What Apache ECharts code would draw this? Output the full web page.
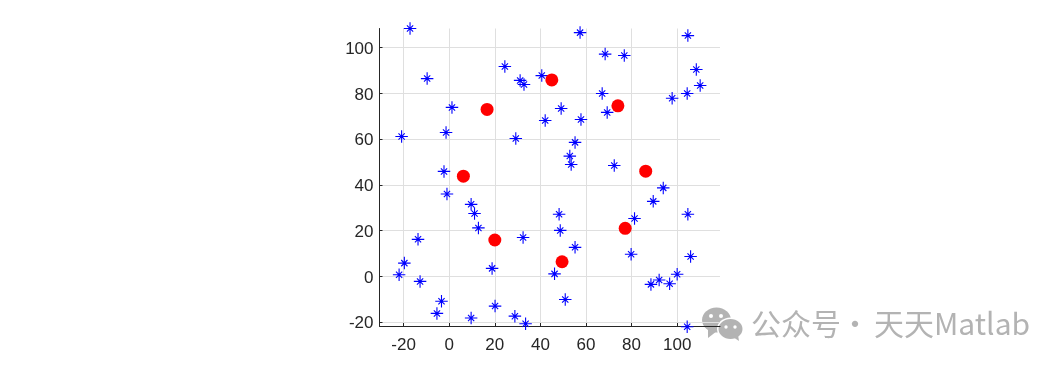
<!DOCTYPE html>
<html><head><meta charset="utf-8">
<style>html,body{margin:0;padding:0;background:#fff}#c{width:1063px;height:367px}</style>
<script src="https://cdn.jsdelivr.net/npm/echarts@6/dist/echarts.min.js"></script>
</head><body><div id="c"></div>
<script>
const xTicks = [-20,0,20,40,60,80,100];
const yTicks = [-20,0,20,40,60,80,100];
const xRange = [-30.6,118.8];
const yRange = [-21.7,108.4];
const samplePoints = [
[-17.2,108.4],[-9.7,86.5],[1.2,73.9],[-20.9,61.2],[-1.4,62.9],[-2.3,45.9],[24.4,91.8],[31.1,85.7],[32.8,83.9],[40.6,87.8],[42.1,68.2],[29.2,60.3],
[57.4,106.6],[68.4,97.2],[76.8,96.6],[104.7,105.3],[108.4,90.5],[110.1,83.5],[104.4,80],[97.8,77.9],[67.1,80],[69.3,71.7],[49.1,73.4],[57.8,68.6],[55.2,58.6],[52.9,52.6],[53.5,48.9],[72.4,48.5],[93.9,38.7],
[-1,36],[9.6,31.5],[11.1,27.5],[12.8,21.2],[-13.7,16.2],[-19.7,5.8],[-22,0.7],[-12.8,-2.2],[-3.4,-10.9],[-5.4,-16.2],[9.6,-18.2],[20.1,-13],[28.8,-17.4],[33.5,-20.7],[18.8,3.5],[32.4,17],
[48.2,27.2],[48.7,20.1],[55.2,12.7],[46.2,1.1],[50.9,-10.1],[81.3,25.3],[89.5,32.8],[104.7,27.2],[105.9,8.7],[79.8,9.7],[100,0.9],[92.1,-1.6],[88.5,-3.5],[96.7,-3.2],[104.4,-22]
];
const centers = [[16.6,73],[6.2,43.8],[45,85.9],[74,74.6],[86.2,46],[77.2,21],[49.5,6.4],[20,15.9]];
const watermark = ["公众号","·","天天Matlab"];
const AXC = '#262626', GRID = '#dfdfdf', GREY = '#b3b3b3';
const star = 'path://M0 -6V6M-6 0H6M-3 -3L3 3M-3 3L3 -3';
function axis(ticks, range, lab){
  return {type:'value',min:range[0],max:range[1],
    axisLine:{show:true,onZero:false,lineStyle:{color:AXC,width:1}},
    axisTick:{show:true,inside:true,length:3,customValues:ticks,lineStyle:{color:AXC,width:1}},
    splitLine:{show:true,lineStyle:{color:GRID,width:1}},
    axisLabel:Object.assign({customValues:ticks,color:AXC,fontFamily:'Liberation Sans',fontSize:17},lab)};
}
const wmStyle = {fill:GREY,fontFamily:'"Noto Sans CJK SC","Noto Sans",sans-serif',fontSize:30,verticalAlign:'middle',align:'left'};
const chart = echarts.init(document.getElementById('c'),null,{renderer:'canvas'});
chart.setOption({animation:false,backgroundColor:'#fff',
  grid:{left:379.5,right:343,top:28.5,bottom:41},
  xAxis:axis(xTicks,xRange,{margin:11}),yAxis:axis(yTicks,yRange,{margin:6,verticalAlign:'top',lineHeight:3}),
  series:[
   {type:'scatter',data:samplePoints,symbol:star,symbolSize:12.5,clip:false,
    itemStyle:{color:'none',borderColor:'#0000ff',borderWidth:1.1,opacity:1}},
   {type:'scatter',data:centers,symbol:'circle',symbolSize:13,clip:false,z:3,
    itemStyle:{color:'#ff0000',opacity:1}}
  ],
  graphic:[
   {type:'group',z:100,children:[
    {type:'ellipse',shape:{cx:716.5,cy:320,rx:14.5,ry:12.5},style:{fill:GREY}},
    {type:'polygon',shape:{points:[[708,328],[708,338],[717,331]]},style:{fill:GREY}},
    {type:'ellipse',shape:{cx:730.5,cy:329,rx:13.5,ry:11.5},style:{fill:'#fff'}},
    {type:'ellipse',shape:{cx:730.5,cy:329,rx:12,ry:10},style:{fill:GREY}},
    {type:'polygon',shape:{points:[[733,337],[739,341],[738,335]]},style:{fill:GREY}},
    {type:'circle',shape:{cx:711,cy:316,r:2},style:{fill:'#fff'}},
    {type:'circle',shape:{cx:721,cy:316,r:2},style:{fill:'#fff'}},
    {type:'circle',shape:{cx:726,cy:327,r:1.7},style:{fill:'#fff'}},
    {type:'circle',shape:{cx:735,cy:327,r:1.7},style:{fill:'#fff'}},
    {type:'text',x:751,y:324,style:Object.assign({text:watermark[0]},wmStyle)},
    {type:'text',x:840,y:324,style:Object.assign({text:watermark[1]},wmStyle)},
    {type:'text',x:874,y:324,style:Object.assign({text:watermark[2]},wmStyle)}
   ]}
  ]
});
</script></body></html>
